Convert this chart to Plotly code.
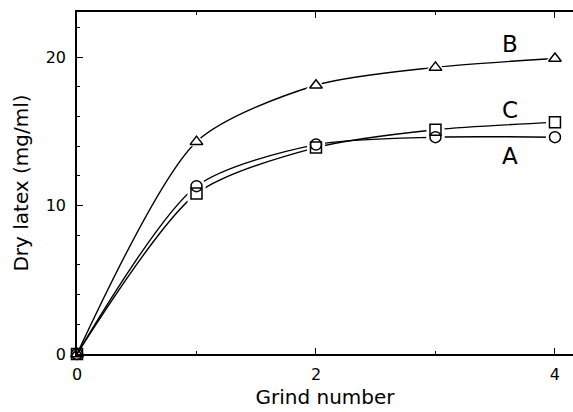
import plotly.graph_objects as go

grind = [0, 1, 2, 3, 4]
series_A = [0, 11.3, 14.1, 14.6, 14.6]
series_B = [0, 14.3, 18.1, 19.3, 19.9]
series_C = [0, 10.8, 13.9, 15.1, 15.6]

label_names = ["B", "C", "A"]
label_x = [3.62, 3.62, 3.62]
label_y = [20.9, 16.4, 13.3]

x_ticks = [0, 2, 4]
y_ticks = [0, 10, 20]

FONT = "DejaVu Sans"
fig = go.Figure()

series = [(series_A, "circle-open"), (series_B, "triangle-up-open"), (series_C, "square-open")]

for ys, sym in series:
    fig.add_trace(go.Scatter(x=grind, y=ys, mode="lines",
                             line=dict(color="black", width=1.4, shape="spline", smoothing=0.75),
                             showlegend=False, hoverinfo="skip", cliponaxis=False))
for ys, sym in series:
    fig.add_trace(go.Scatter(x=grind[1:], y=ys[1:], mode="markers",
                             marker=dict(symbol=sym.replace("-open", ""), size=18, color="white",
                                         line=dict(width=0)),
                             showlegend=False, hoverinfo="skip", cliponaxis=False))
for ys, sym in series:
    fig.add_trace(go.Scatter(x=grind, y=ys, mode="markers",
                             marker=dict(symbol=sym, size=11, color="black",
                                         line=dict(width=1.5, color="black")),
                             showlegend=False, hoverinfo="skip", cliponaxis=False))

for name, lx, ly in zip(label_names, label_x, label_y):
    fig.add_annotation(x=lx, y=ly, text=name, showarrow=False,
                       font=dict(family=FONT, size=23, color="black"))

fig.update_layout(
    width=573, height=412,
    margin=dict(l=77, r=0, t=12, b=58),
    plot_bgcolor="white", paper_bgcolor="white",
    font=dict(family=FONT, color="black"),
    xaxis=dict(range=[0, 4.151], tickvals=x_ticks, ticks="inside", ticklen=6, tickwidth=1.2,
               tickcolor="black", showline=True, linecolor="black", linewidth=1.5,
               mirror="ticks", showgrid=False, zeroline=False, ticklabelstandoff=5,
               minor=dict(dtick=1, ticks="inside", ticklen=3, tickcolor="black"),
               tickfont=dict(size=16), title=dict(text="Grind number", font=dict(size=20), standoff=7)),
    yaxis=dict(range=[0, 23.03], tickvals=y_ticks, ticks="inside", ticklen=6, tickwidth=1.2,
               tickcolor="black", showline=True, linecolor="black", linewidth=1.5,
               showgrid=False, zeroline=False, ticklabelstandoff=6,
               minor=dict(dtick=2, ticks="inside", ticklen=3, tickcolor="black"),
               tickfont=dict(size=16), title=dict(text="Dry latex (mg/ml)", font=dict(size=20), standoff=12)),
)

fig.write_html("out.html")
